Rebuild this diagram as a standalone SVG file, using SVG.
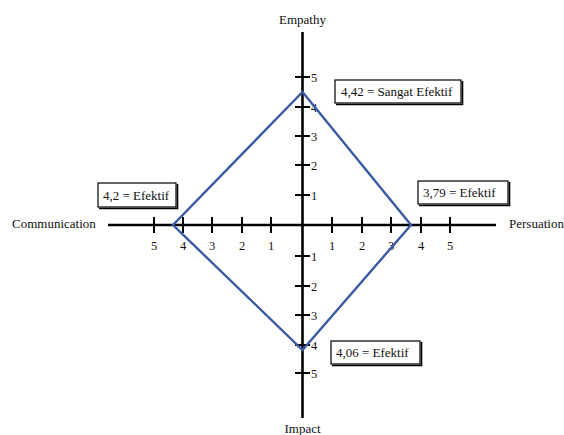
<svg xmlns="http://www.w3.org/2000/svg" width="564" height="435" viewBox="0 0 564 435">
<style>
.t{font-size:13px}
.n{font-size:12.5px}
.ax{stroke:#000;stroke-width:2.6;fill:none}
.tk{stroke:#000;stroke-width:2;fill:none}
.box{fill:#fff;stroke:#000;stroke-width:1.2}
.sh{stroke:#000;stroke-width:1.6;fill:none}
.dia{fill:none;stroke:#3a5ba0;stroke-width:2.4;stroke-linejoin:miter}
</style>
<rect width="564" height="435" fill="#fff"/>
<g font-family="'Liberation Serif', 'Times New Roman', 'DejaVu Serif', serif" fill="#111">
<g id="axes">
<line class="ax" x1="108" y1="225" x2="496" y2="225"/>
<line class="ax" x1="302.5" y1="32" x2="302.5" y2="418"/>
<g class="tk">
<line x1="154" y1="217" x2="154" y2="233"/>
<line x1="183" y1="217" x2="183" y2="233"/>
<line x1="212" y1="217" x2="212" y2="233"/>
<line x1="242" y1="217" x2="242" y2="233"/>
<line x1="271" y1="217" x2="271" y2="233"/>
<line x1="332" y1="217" x2="332" y2="233"/>
<line x1="362" y1="217" x2="362" y2="233"/>
<line x1="391" y1="217" x2="391" y2="233"/>
<line x1="421" y1="217" x2="421" y2="233"/>
<line x1="450" y1="217" x2="450" y2="233"/>
<line x1="295" y1="77" x2="310" y2="77"/>
<line x1="295" y1="107" x2="310" y2="107"/>
<line x1="295" y1="136" x2="310" y2="136"/>
<line x1="295" y1="165" x2="310" y2="165"/>
<line x1="295" y1="195" x2="310" y2="195"/>
<line x1="295" y1="256" x2="310" y2="256"/>
<line x1="295" y1="286" x2="310" y2="286"/>
<line x1="295" y1="315" x2="310" y2="315"/>
<line x1="295" y1="345" x2="310" y2="345"/>
<line x1="295" y1="373" x2="310" y2="373"/>
</g>
<g class="n" text-anchor="middle">
<text x="154" y="250">5</text>
<text x="183" y="250">4</text>
<text x="212" y="250">3</text>
<text x="242" y="250">2</text>
<text x="271" y="250">1</text>
<text x="332" y="250">1</text>
<text x="362" y="250">2</text>
<text x="391" y="250">3</text>
<text x="421" y="250">4</text>
<text x="450" y="250">5</text>
</g>
<g class="n">
<text x="311" y="82">5</text>
<text x="311" y="112">4</text>
<text x="311" y="141">3</text>
<text x="311" y="170">2</text>
<text x="311" y="200">1</text>
<text x="311" y="261">1</text>
<text x="311" y="291">2</text>
<text x="311" y="320">3</text>
<text x="311" y="350">4</text>
<text x="311" y="378">5</text>
</g>
<text class="t" x="302.5" y="24" text-anchor="middle">Empathy</text>
<text class="t" x="302.5" y="433" text-anchor="middle">Impact</text>
<text class="t" x="12" y="228">Communication</text>
<text class="t" x="509" y="228">Persuation</text>
</g>
<g id="connectors">
<polygon class="dia" points="302.5,92 411,225 302.5,350 173,225"/>
</g>
<g id="label-empathy">
<rect class="box" x="335" y="80" width="126" height="23"/>
<polyline class="sh" points="462.5,81 462.5,104.5 336,104.5"/>
<text class="t" x="341" y="96">4,42 = Sangat Efektif</text>
</g>
<g id="label-communication">
<rect class="box" x="98" y="183" width="78" height="24"/>
<polyline class="sh" points="177.5,184 177.5,208.5 99,208.5"/>
<text class="t" x="103" y="200">4,2 = Efektif</text>
</g>
<g id="label-persuation">
<rect class="box" x="418" y="181" width="90" height="23"/>
<polyline class="sh" points="509.5,182 509.5,205.5 419,205.5"/>
<text class="t" x="423" y="197">3,79 = Efektif</text>
</g>
<g id="label-impact">
<rect class="box" x="331" y="341" width="89" height="23"/>
<polyline class="sh" points="421.5,342 421.5,365.5 332,365.5"/>
<text class="t" x="336" y="357">4,06 = Efektif</text>
</g>
</g>
</svg>
